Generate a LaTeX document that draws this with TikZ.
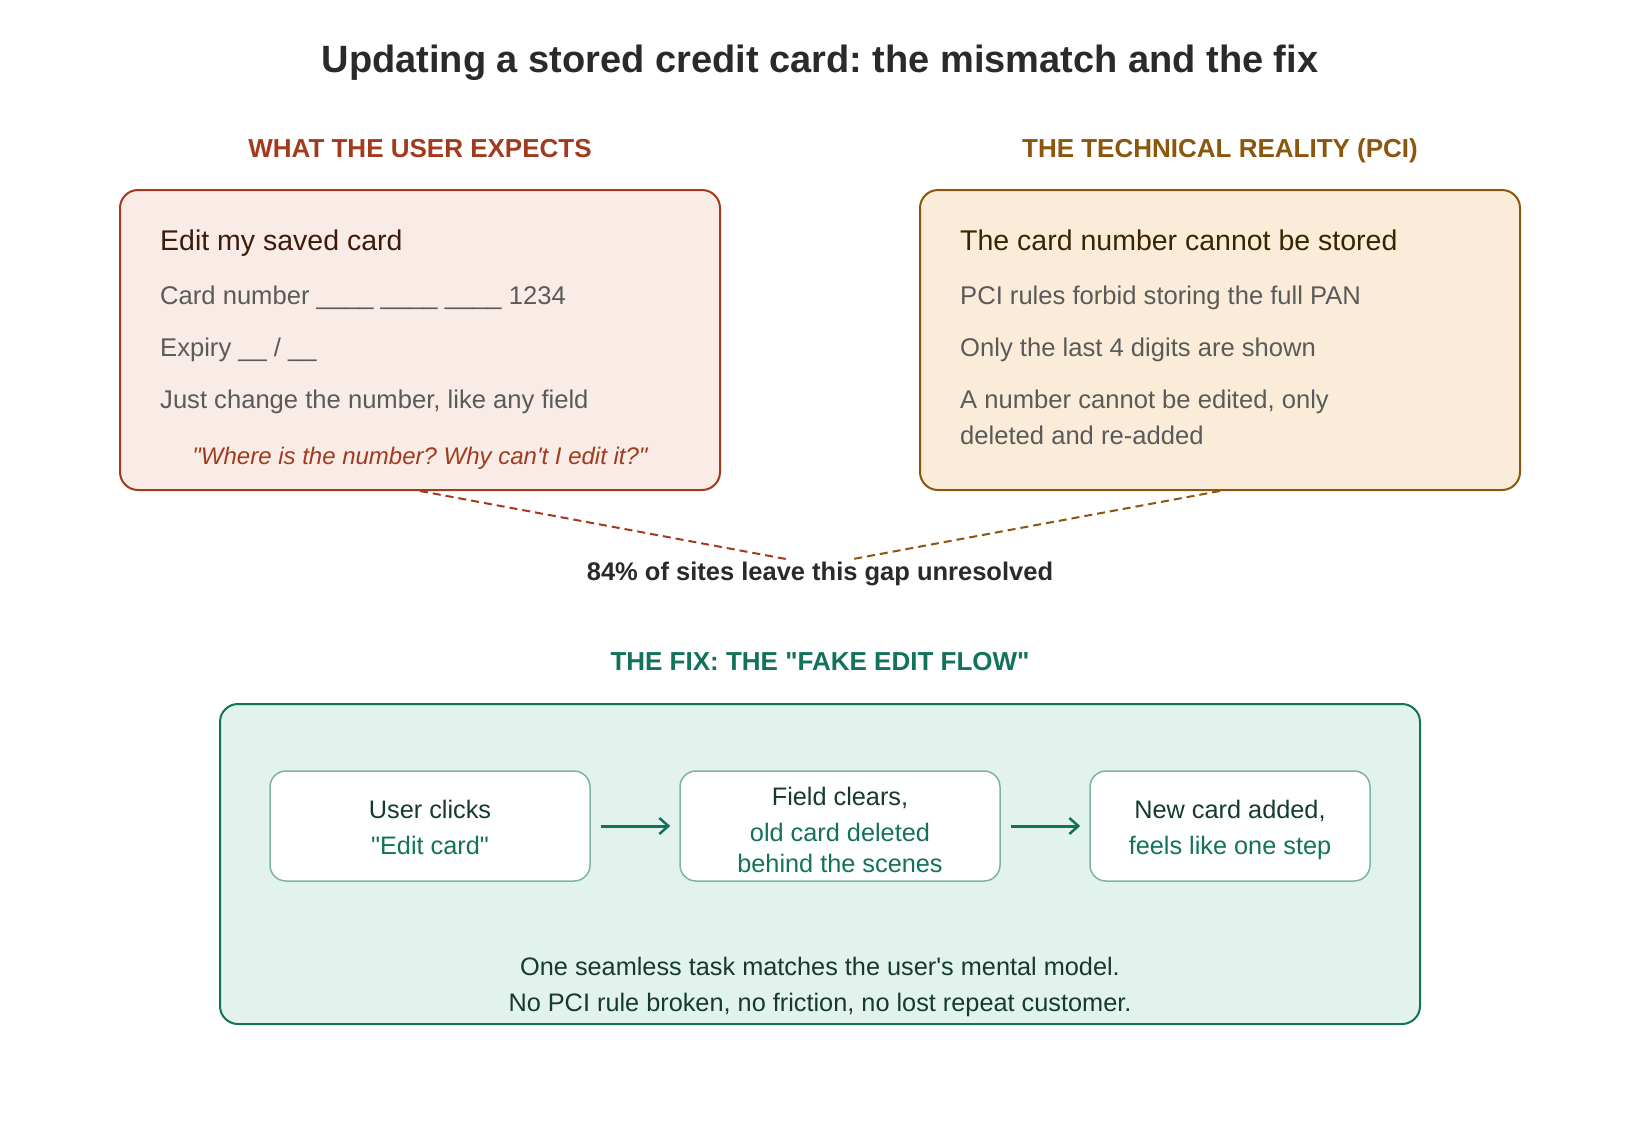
\documentclass[tikz,border=0pt]{standalone}
\usepackage{fontspec}
\setmainfont{Liberation Sans}[Ligatures=TeXOff]
\usetikzlibrary{arrows.meta}
\frenchspacing
\definecolor{titlecol}{HTML}{2A2A2A}
\definecolor{rust}{HTML}{A23A1E}
\definecolor{rustfill}{HTML}{F9ECE6}
\definecolor{rustdark}{HTML}{3E1A0E}
\definecolor{amber}{HTML}{8C560C}
\definecolor{amberfill}{HTML}{FAECD8}
\definecolor{amberdark}{HTML}{3A2404}
\definecolor{greytext}{HTML}{5A5A5A}
\definecolor{green}{HTML}{12735A}
\definecolor{greenfill}{HTML}{E1F3EC}
\definecolor{greenline}{HTML}{7DB5A2}
\definecolor{greendark}{HTML}{163A30}
\tikzset{
  bigbox/.style={draw, line width=2pt, rounded corners=18pt, minimum width=600pt, minimum height=300pt},
  stepbox/.style={draw=greenline, fill=white, line width=1.5pt, rounded corners=16pt, minimum height=110pt},
  hdr/.style={font=\fontsize{26}{26}\selectfont\bfseries, anchor=base},
  body/.style={font=\fontsize{25.6}{26}\selectfont, text=greytext, anchor=base west, inner sep=0pt},
  boxtitle/.style={font=\fontsize{28.5}{28}\selectfont, anchor=base west, inner sep=0pt},
  steptxt/.style={font=\fontsize{25.3}{26}\selectfont, anchor=base, inner sep=0pt},
  flow/.style={draw=green, line width=3pt, -{Straight Barb[length=9pt,width=16pt,line width=2.5pt]}},
  gap/.style={line width=2pt, dash pattern=on 8pt off 5pt}
}
\begin{document}
\begin{tikzpicture}[x=1pt,y=-1pt]
\useasboundingbox (0,0) rectangle (1640,1120);
\fill[white] (0,0) rectangle (1640,1120);
% title
\node[font=\fontsize{38}{38}\selectfont\bfseries, text=titlecol, anchor=base] (title) at (820,72) {Updating a stored credit card: the mismatch and the fix};
% headers
\node[hdr, text=rust] (hl) at (420,157) {WHAT THE USER EXPECTS};
\node[hdr, text=amber] (hr) at (1220,157) {THE TECHNICAL REALITY (PCI)};
% boxes
\node[bigbox, draw=rust, fill=rustfill] (lbox) at (420,340) {};
\node[bigbox, draw=amber, fill=amberfill] (rbox) at (1220,340) {};
% left content
\node[boxtitle, text=rustdark] (lt) at (160,250) {Edit my saved card};
\node[body] (l1) at (160,304) {Card number \_\_\_\_ \_\_\_\_ \_\_\_\_ 1234};
\node[body] (l2) at (160,356) {Expiry \_\_ / \_\_};
\node[body] (l3) at (160,408) {Just change the number, like any field};
\node[font=\fontsize{24}{24}\selectfont\itshape, text=rust, anchor=base, inner sep=0pt] (lq) at (420,464) {"Where is the number? Why can't I edit it?"};
% right content
\node[boxtitle, text=amberdark] (rt) at (960,250) {The card number cannot be stored};
\node[body] (r1) at (960,304) {PCI rules forbid storing the full PAN};
\node[body] (r2) at (960,356) {Only the last 4 digits are shown};
\node[body] (r3) at (960,408) {A number cannot be edited, only};
\node[body] (r4) at (960,444) {deleted and re-added};
% gap
\node[font=\fontsize{25.5}{26}\selectfont\bfseries, anchor=base, text=titlecol] (gapt) at (820,580) {84\% of sites leave this gap unresolved};
\coordinate (gl) at (786,559);
\coordinate (gr) at (853,559);
\draw[gap, draw=rust] (lbox.south) -- (gl);
\draw[gap, draw=amber] (rbox.south) -- (gr);
% fix
\node[hdr, text=green] (fixh) at (820,670) {THE FIX: THE "FAKE EDIT FLOW"};
\node[draw=green, fill=greenfill, line width=2pt, rounded corners=18pt, minimum width=1200pt, minimum height=320pt] (fbox) at (820,864) {};
\node[stepbox, minimum width=320pt] (s1) at (430,826) {};
\node[stepbox, minimum width=320pt] (s2) at (840,826) {};
\node[stepbox, minimum width=280pt] (s3) at (1230,826) {};
\node[steptxt, text=greendark] (s1a) at (430,818) {User clicks};
\node[steptxt, text=green] (s1b) at (430,854) {"Edit card"};
\node[steptxt, text=greendark] (s2a) at (840,805) {Field clears,};
\node[steptxt, text=green] (s2b) at (840,841) {old card deleted};
\node[steptxt, text=green] (s2c) at (840,872) {behind the scenes};
\node[steptxt, text=greendark] (s3a) at (1230,818) {New card added,};
\node[steptxt, text=green] (s3b) at (1230,854) {feels like one step};
\draw[flow, shorten <=10pt, shorten >=9pt] (s1.east) -- (s2.west);
\draw[flow, shorten <=10pt, shorten >=9pt] (s2.east) -- (s3.west);
\node[steptxt, text=greendark] (b1) at (820,975) {One seamless task matches the user's mental model.};
\node[steptxt, text=greendark] (b2) at (820,1011) {No PCI rule broken, no friction, no lost repeat customer.};
\end{tikzpicture}
\end{document}
